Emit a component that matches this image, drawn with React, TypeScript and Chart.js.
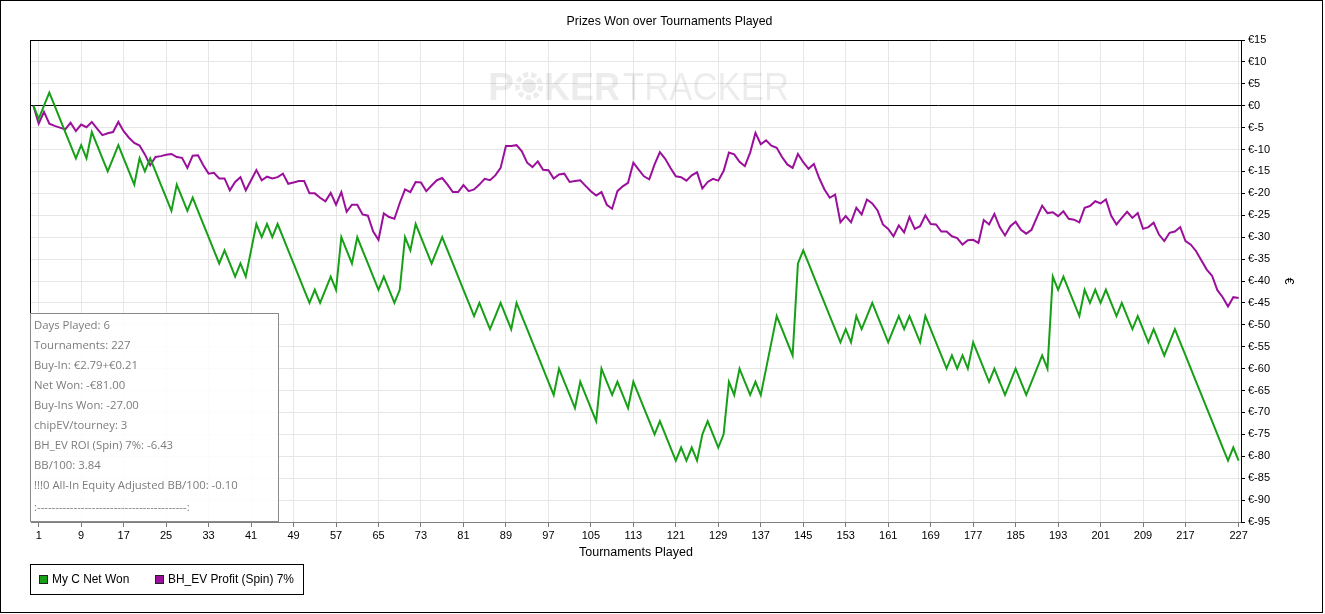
import React, { useEffect, useRef } from "react";
import { Chart, registerables } from "chart.js";

Chart.register(...registerables);

const chartTitle = "Prizes Won over Tournaments Played";
const xAxisTitle = "Tournaments Played";
const yAxisTitle = "€";
const seriesNames = ["My C Net Won", "BH_EV Profit (Spin) 7%"];
const seriesColors = ["#17a017", "#9b109b"];

// tournament index 0..227 (0 = start)
const tournaments: number[] = Array.from({ length: 228 }, (_, i) => i);

const netWon: number[] = [
  0, -3, 0, 3, 0, -3, -6, -9, -12, -9,
  -12, -6, -9, -12, -15, -12, -9, -12, -15, -18,
  -12, -15, -12, -15, -18, -21, -24, -18, -21, -24,
  -21, -24, -27, -30, -33, -36, -33, -36, -39, -36,
  -39, -33, -27, -30, -27, -30, -27, -30, -33, -36,
  -39, -42, -45, -42, -45, -42, -39, -42, -30, -33,
  -36, -30, -33, -36, -39, -42, -39, -42, -45, -42,
  -30, -33, -27, -30, -33, -36, -33, -30, -33, -36,
  -39, -42, -45, -48, -45, -48, -51, -48, -45, -48,
  -51, -45, -48, -51, -54, -57, -60, -63, -66, -60,
  -63, -66, -69, -63, -66, -69, -72, -60, -63, -66,
  -63, -66, -69, -63, -66, -69, -72, -75, -72, -75,
  -78, -81, -78, -81, -78, -81, -75, -72, -75, -78,
  -75, -63, -66, -60, -63, -66, -63, -66, -60, -54,
  -48, -51, -54, -57, -36, -33, -36, -39, -42, -45,
  -48, -51, -54, -51, -54, -48, -51, -48, -45, -48,
  -51, -54, -51, -48, -51, -48, -51, -54, -48, -51,
  -54, -57, -60, -57, -60, -57, -60, -54, -57, -60,
  -63, -60, -63, -66, -63, -60, -63, -66, -63, -60,
  -57, -60, -39, -42, -39, -42, -45, -48, -42, -45,
  -42, -45, -42, -45, -48, -45, -48, -51, -48, -51,
  -54, -51, -54, -57, -54, -51, -54, -57, -60, -63,
  -66, -69, -72, -75, -78, -81, -78, -81,
];

const bhEvProfit: number[] = [
  0, -4.1, -1.4, -4.1, -4.6, -5.0, -5.4, -3.9, -5.8, -4.3,
  -4.9, -3.7, -5.2, -6.7, -6.3, -6.0, -3.7, -5.8, -7.3, -8.5,
  -9.1, -11.1, -13.6, -11.7, -11.5, -11.2, -11.0, -11.7, -11.9, -14.2,
  -11.4, -11.3, -13.6, -15.5, -15.3, -16.6, -16.6, -19.3, -17.4, -16.3,
  -19.3, -17.0, -14.7, -17.0, -16.2, -16.6, -16.3, -15.5, -17.8, -17.5,
  -17.2, -17.2, -20.0, -20.0, -21.0, -21.8, -19.9, -22.6, -19.7, -24.2,
  -22.6, -22.6, -24.8, -25.1, -28.7, -30.6, -24.6, -25.4, -25.8, -22.2,
  -19.1, -19.7, -17.4, -17.5, -19.5, -18.2, -17.0, -16.5, -18.0, -19.7,
  -19.7, -18.1, -19.5, -19.1, -18.0, -16.7, -17.0, -15.9, -14.2, -9.2,
  -9.2, -9.0, -10.4, -13.0, -14.0, -12.7, -14.6, -14.7, -16.6, -15.7,
  -15.5, -17.4, -17.2, -17.0, -18.3, -19.5, -20.5, -19.7, -22.6, -23.5,
  -19.5, -18.4, -17.6, -13.0, -14.6, -16.1, -16.8, -13.4, -10.6, -12.1,
  -14.2, -16.1, -16.3, -17.1, -15.9, -15.2, -18.9, -17.4, -16.7, -17.1,
  -14.9, -10.7, -11.1, -12.8, -13.8, -10.7, -6.2, -8.8, -7.9, -9.1,
  -9.6, -11.7, -13.4, -14.2, -11.0, -12.9, -14.4, -13.3, -16.5, -19.1,
  -21.0, -20.3, -26.6, -25.2, -26.6, -23.3, -24.8, -21.4, -22.3, -23.9,
  -27.1, -28.1, -29.8, -27.3, -28.9, -25.4, -28.1, -27.5, -25.0, -27.0,
  -27.1, -28.7, -28.7, -29.8, -30.2, -31.7, -30.7, -30.6, -31.3, -26.1,
  -27.1, -24.7, -27.7, -29.6, -27.5, -26.5, -28.3, -29.2, -28.3, -25.5,
  -22.8, -24.5, -24.3, -25.2, -24.1, -25.8, -26.0, -26.6, -23.3, -22.9,
  -21.8, -22.3, -21.4, -25.1, -27.1, -25.6, -24.2, -25.6, -24.5, -28.1,
  -27.7, -26.7, -29.4, -30.9, -29.0, -28.7, -27.7, -30.9, -31.7, -33.2,
  -35.3, -37.4, -38.8, -42.1, -43.7, -45.8, -43.7, -43.9,
];

const xTickValues: number[] = [
  1, 9, 17, 25, 33, 41, 49, 57, 65, 73, 81, 89, 97, 105, 113, 121, 129,
  137, 145, 153, 161, 169, 177, 185, 193, 201, 209, 217, 227,
];
const yMin = -95;
const yMax = 15;
const yStep = 5;

const infoLines: string[] = [
  "Days Played: 6",
  "Tournaments: 227",
  "Buy-In: €2.79+€0.21",
  "Net Won: -€81.00",
  "Buy-Ins Won: -27.00",
  "chipEV/tourney: 3",
  "BH_EV ROI (Spin) 7%: -6.43",
  "BB/100: 3.84",
  "!!!0 All-In Equity Adjusted BB/100: -0.10",
  ":-----------------------------------------:",
];

const W = 1325;
const H = 614;

function fitSize(ctx: CanvasRenderingContext2D, text: string, weight: string, family: string, target: number) {
  ctx.font = `${weight} 20px ${family}`;
  const w = ctx.measureText(text).width;
  return (20 * target) / w;
}

const decorPlugin = {
  id: "decor",
  beforeDatasetsDraw(chart: any) {
    const ctx: CanvasRenderingContext2D = chart.ctx;
    ctx.save();
    // watermark
    const base = 100;
    ctx.fillStyle = "rgba(0,0,0,0.075)";
    ctx.strokeStyle = "rgba(0,0,0,0.075)";
    ctx.textBaseline = "alphabetic";
    ctx.textAlign = "left";
    ctx.font = 'bold 39px "Liberation Sans"';
    ctx.fillText("P", 488, base);
    const pw = ctx.measureText("P").width;
    const r = 14;
    const cx = 488 + pw + r + 1;
    const cy = base - 14;
    ctx.lineWidth = 5;
    ctx.setLineDash([5, 3]);
    ctx.beginPath();
    ctx.arc(cx, cy, r - 2.5, 0, Math.PI * 2);
    ctx.stroke();
    ctx.setLineDash([]);
    ctx.beginPath();
    ctx.arc(cx, cy, 7, 0, Math.PI * 2);
    ctx.fill();
    const kx = cx + r + 1;
    ctx.fillText("KER", kx, base, 620 - kx);
    ctx.font = '39px "Liberation Sans"';
    ctx.fillText("TRACKER", 623, base, 166);
    ctx.restore();
  },
  afterDraw(chart: any) {
    const ctx: CanvasRenderingContext2D = chart.ctx;
    const area = chart.chartArea;
    ctx.save();
    // plot frame (top + left)
    ctx.strokeStyle = "#000";
    ctx.lineWidth = 1;
    ctx.beginPath();
    ctx.moveTo(area.left - 0.5, area.top + 0.5);
    ctx.lineTo(area.right, area.top + 0.5);
    ctx.moveTo(area.left - 0.5, area.top);
    ctx.lineTo(area.left - 0.5, area.bottom);
    ctx.stroke();

    // title
    ctx.fillStyle = "#000";
    ctx.textBaseline = "middle";
    ctx.textAlign = "center";
    let s = fitSize(ctx, chartTitle, "normal", '"Liberation Sans"', 206);
    ctx.font = `${s}px "Liberation Sans"`;
    ctx.fillText(chartTitle, 669.5, 22);

    // x axis title
    s = fitSize(ctx, xAxisTitle, "normal", '"Liberation Sans"', 114);
    ctx.font = `${s}px "Liberation Sans"`;
    ctx.fillText(xAxisTitle, 636, 553);

    // y axis title (rotated)
    ctx.save();
    ctx.translate(1288, 281);
    ctx.rotate(Math.PI / 2);
    ctx.font = '12px "Liberation Sans"';
    ctx.fillText(yAxisTitle, 0, 0);
    ctx.restore();

    // info box
    ctx.fillStyle = "rgba(255,255,255,0.85)";
    ctx.fillRect(30.5, 313.5, 248, 208);
    ctx.strokeStyle = "#8a8a8a";
    ctx.strokeRect(30.5, 313.5, 248, 208);
    const infoSize = fitSize(ctx, infoLines[8], "normal", '"Open Sans"', 204);
    ctx.font = `${infoSize}px "Open Sans"`;
    ctx.fillStyle = "#7c7c7c";
    ctx.textAlign = "left";
    infoLines.forEach((line, i) => {
      ctx.fillText(line, 34, 326 + i * 20 + (i === infoLines.length - 1 ? 2 : 0));
    });

    // legend
    ctx.strokeStyle = "#000";
    ctx.strokeRect(30.5, 564.5, 273, 30);
    const ls = fitSize(ctx, seriesNames[1], "normal", '"Liberation Sans"', 126);
    ctx.font = `${ls}px "Liberation Sans"`;
    const items = [
      { sq: 39.5, tx: 52 },
      { sq: 155.5, tx: 168 },
    ];
    items.forEach((it, i) => {
      ctx.fillStyle = seriesColors[i];
      ctx.fillRect(it.sq, 575.5, 8, 8);
      ctx.strokeStyle = "#222";
      ctx.strokeRect(it.sq, 575.5, 8, 8);
      ctx.fillStyle = "#000";
      ctx.fillText(seriesNames[i], it.tx, 580);
    });

    // outer border
    ctx.strokeStyle = "#000";
    ctx.strokeRect(0.5, 0.5, 1322, 612);
    ctx.restore();
  },
};

export default function App() {
  const ref = useRef<HTMLCanvasElement | null>(null);

  useEffect(() => {
    const canvas = ref.current;
    if (!canvas) return;
    const tickFont = { family: '"Liberation Sans"', size: 11 };
    const chart = new Chart(canvas, {
      type: "line",
      data: {
        datasets: [
          {
            label: seriesNames[0],
            data: tournaments.map((t, i) => ({ x: t, y: netWon[i] })),
            borderColor: seriesColors[0],
            backgroundColor: seriesColors[0],
            borderWidth: 2,
            pointRadius: 0,
            tension: 0,
            fill: false,
          },
          {
            label: seriesNames[1],
            data: tournaments.map((t, i) => ({ x: t, y: bhEvProfit[i] })),
            borderColor: seriesColors[1],
            backgroundColor: seriesColors[1],
            borderWidth: 2,
            pointRadius: 0,
            tension: 0,
            fill: false,
          },
        ],
      },
      options: {
        responsive: false,
        animation: false,
        devicePixelRatio: 1,
        events: [],
        layout: { padding: { left: 31, top: 40, right: 0, bottom: 0 } },
        plugins: {
          legend: { display: false },
          title: { display: false },
          tooltip: { enabled: false },
        },
        scales: {
          x: {
            type: "linear",
            min: -0.45,
            max: 227.45,
            afterBuildTicks: (scale: any) => {
              scale.ticks = xTickValues.map((v) => ({ value: v }));
            },
            afterFit: (scale: any) => {
              scale.height = 92;
            },
            ticks: {
              autoSkip: false,
              maxRotation: 0,
              minRotation: 0,
              color: "#000",
              font: tickFont,
              padding: 2,
              callback: (v: any) => String(v),
            },
            grid: { color: "#e6e6e6", tickLength: 5, tickColor: "#777", drawTicks: true },
            border: { display: true, color: "#808080" },
          },
          y: {
            position: "right",
            min: yMin,
            max: yMax,
            afterFit: (scale: any) => {
              scale.width = 84;
            },
            ticks: {
              stepSize: yStep,
              autoSkip: false,
              color: "#000",
              font: tickFont,
              padding: 3,
              callback: (v: any) => "€" + v,
            },
            grid: {
              color: (c: any) => (c.tick && c.tick.value === 0 ? "#000" : "#e6e6e6"),
              tickLength: 4,
              tickColor: "#000",
            },
            border: { display: true, color: "#000" },
          },
        },
      } as any,
      plugins: [decorPlugin],
    });
    return () => chart.destroy();
  }, []);

  return (
    <div style={{ position: "fixed", left: 0, top: 0, width: W, height: H, background: "#fff" }}>
      <canvas ref={ref} width={W} height={H} style={{ display: "block", width: W, height: H }} />
    </div>
  );
}
